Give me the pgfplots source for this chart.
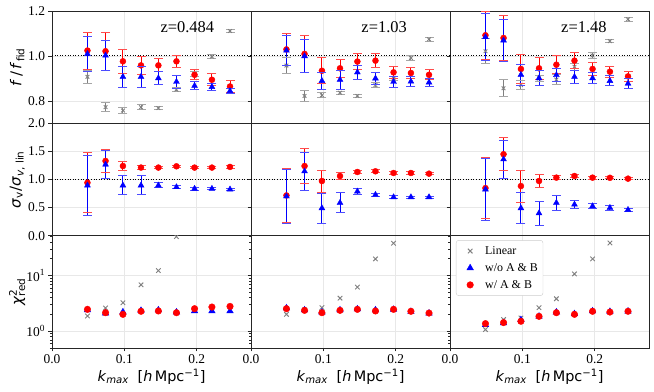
\documentclass[border=0pt]{standalone}
\usepackage{fontspec}
\setmainfont{Liberation Serif}
\newfontfamily\dv{DejaVu Sans}
\usepackage{pgfplots}
\pgfplotsset{compat=1.18}
\usepackage{pgfplotstable}
\usepgfplotslibrary{groupplots}
\usetikzlibrary{calc}

% f / f_fid : k, gray(linear), red(w/ A&B), blue(w/o A&B)
\pgfplotstableread{
k gy ge ry re by be
0.049 0.907 0.030 1.024 0.082 1.009 0.076
0.074 0.772 0.020 1.021 0.084 1.002 0.067
0.098 0.757 0.012 0.976 0.052 0.907 0.047
0.123 0.772 0.010 0.958 0.040 0.907 0.047
0.147 0.768 0.008 0.958 0.029 0.901 0.029
0.172 0.850 0.010 0.976 0.027 0.885 0.028
0.197 0.920 0.010 0.916 0.022 0.867 0.018
0.221 0.997 0.010 0.894 0.027 0.862 0.015
0.246 1.111 0.008 0.864 0.025 0.844 0.012
}\fA
\pgfplotstableread{
k gy ge ry re by be
0.049 0.957 0.037 1.029 0.070 1.024 0.068
0.074 0.822 0.025 1.009 0.084 0.999 0.073
0.098 0.825 0.012 0.934 0.058 0.889 0.037
0.123 0.836 0.008 0.945 0.041 0.894 0.041
0.147 0.822 0.008 0.975 0.034 0.927 0.032
0.172 0.870 0.010 0.979 0.030 0.900 0.028
0.197 0.900 0.010 0.927 0.025 0.885 0.024
0.221 0.991 0.009 0.924 0.025 0.886 0.022
0.246 1.074 0.008 0.916 0.022 0.882 0.019
}\fB
\pgfplotstableread{
k gy ge ry re by be
0.049 1.021 0.056 1.092 0.107 1.084 0.105
0.074 0.856 0.038 1.080 0.100 1.069 0.092
0.098 0.871 0.022 0.942 0.065 0.916 0.046
0.123 0.900 0.013 0.945 0.049 0.901 0.033
0.147 0.895 0.022 0.961 0.041 0.915 0.030
0.172 0.952 0.015 0.979 0.036 0.907 0.029
0.197 1.002 0.013 0.942 0.030 0.901 0.025
0.221 1.066 0.008 0.930 0.025 0.889 0.022
0.246 1.163 0.009 0.909 0.023 0.877 0.022
}\fC

% sigma_v / sigma_v,lin
\pgfplotstableread{
k ry re by be
0.049 0.943 0.530 0.895 0.535
0.074 1.330 0.210 1.266 0.245
0.098 1.240 0.075 0.895 0.170
0.123 1.212 0.030 0.895 0.170
0.147 1.212 0.020 0.895 0.045
0.172 1.235 0.020 0.865 0.030
0.197 1.212 0.020 0.836 0.025
0.221 1.212 0.020 0.836 0.020
0.246 1.224 0.020 0.824 0.020
}\sA
\pgfplotstableread{
k ry re by be
0.049 0.716 0.475 0.700 0.475
0.074 1.240 0.310 1.146 0.340
0.098 0.973 0.195 0.490 0.270
0.123 1.062 0.070 0.585 0.180
0.147 1.134 0.030 0.788 0.050
0.172 1.146 0.025 0.728 0.030
0.197 1.116 0.020 0.686 0.025
0.221 1.116 0.020 0.686 0.020
0.246 1.104 0.020 0.686 0.020
}\sB
\pgfplotstableread{
k ry re by be
0.049 0.847 0.545 0.824 0.550
0.074 1.450 0.290 1.360 0.340
0.098 0.883 0.285 0.490 0.280
0.123 0.973 0.110 0.400 0.210
0.147 1.033 0.040 0.585 0.128
0.172 1.062 0.030 0.555 0.070
0.197 1.033 0.025 0.525 0.045
0.221 1.030 0.020 0.496 0.040
0.246 1.015 0.020 0.460 0.030
}\sC

% reduced chi^2
\pgfplotstableread{
k g b r
0.049 1.88 2.40 2.47
0.074 2.61 2.10 2.15
0.098 3.25 2.21 2.01
0.123 6.8 2.35 2.28
0.147 12.3 2.40 2.31
0.172 50 2.20 2.15
0.197 nan 2.30 2.54
0.221 nan 2.30 2.72
0.246 nan 2.30 2.79
}\cA
\pgfplotstableread{
k g b r
0.049 2.01 2.60 2.54
0.074 2.40 2.40 2.37
0.098 2.65 2.20 2.15
0.123 3.93 2.40 2.37
0.147 6.2 2.50 2.47
0.172 19.9 2.40 2.31
0.197 38 2.45 2.47
0.221 nan 2.25 2.28
0.246 nan 2.10 2.12
}\cB
\pgfplotstableread{
k g b r
0.049 1.07 1.30 1.37
0.074 1.62 1.40 1.43
0.098 1.73 1.60 1.51
0.123 2.65 1.85 1.85
0.147 3.83 2.20 2.15
0.172 10.7 2.05 2.01
0.197 19.9 2.30 2.28
0.221 38.4 2.25 2.21
0.246 nan 2.28 2.28
}\cC

\pgfplotsset{
  gr/.style={only marks, color=gray, mark=x, mark size=2.6bp, mark options={line width=0.9bp}},
  bl/.style={only marks, color=blue, mark=triangle*, mark size=3.4bp},
  rd/.style={only marks, color=red, mark=*, mark size=3bp},
  cap/.style={only marks, mark=-, mark size=4.5bp, mark options={line width=0.9bp}, color=#1!70!white, forget plot},
  refline/.style={black, line width=1bp, dash pattern=on 1bp off 1.6bp, forget plot},
}
\tikzset{ztext/.style={font=\fontsize{16.5}{16.5}\selectfont}}

% #1 table, #2 value column, #3 error column, #4 colour, #5 marker style
\newcommand\eplot[5]{%
  \addplot[cap=#4] table[x=k, y expr=\thisrow{#2}+\thisrow{#3}] {#1};
  \addplot[cap=#4] table[x=k, y expr=\thisrow{#2}-\thisrow{#3}] {#1};
  \addplot[draw=#4, line width=1bp, forget plot, quiver={u=0, v={2*\thisrow{#3}},
    every arrow/.append style={draw=#4, line width=1bp}}]
    table[x=k, y expr=\thisrow{#2}-\thisrow{#3}] {#1};
  \addplot[#5] table[x=k, y=#2] {#1};
}

\begin{document}
\begin{tikzpicture}
\begin{groupplot}[
  group style={group size=3 by 3, group name=G, horizontal sep=0pt, vertical sep=0pt,
    x descriptions at=edge bottom, y descriptions at=edge left},
  scale only axis, width=199bp, height=112.33bp,
  xmin=0, xmax=0.275, xtick={0,0.1,0.2}, xticklabels={0.0,0.1,0.2},
  tick pos=left, tick align=outside,
  major tick length=3.5bp, minor tick length=2bp,
  grid=major, grid style={black!9, line width=0.6bp},
  axis line style={black!85, line width=0.8bp},
  tick style={black!85, line width=0.6bp},
  ticklabel style={font=\fontsize{13.5}{13.5}\selectfont},
  /pgf/number format/assume math mode=true,
  ylabel style={at={(axis description cs:-0.175,0.5)}, anchor=center, font=\dv\fontsize{15}{15}\selectfont},
  xlabel style={at={(axis description cs:0.5,-0.255)}, anchor=center, font=\dv\fontsize{14.5}{14.5}\selectfont},
  xlabel={\textit{k}\textsubscript{\textit{max}}\hspace{0.6em}[\textit{h}\,Mpc\textsuperscript{−1}]},
]
% ---------- row 1 ----------
\nextgroupplot[ymin=0.7, ymax=1.2, ytick={0.8,1.0,1.2}, yticklabels={0.8,1.0,1.2},
  ylabel={\textit{f}\,/\,\textit{f}\textsubscript{fid}}]
\addplot[refline] coordinates {(0,1) (0.275,1)};
\eplot{\fA}{gy}{ge}{gray}{gr}
\eplot{\fA}{ry}{re}{red}{rd}
\eplot{\fA}{by}{be}{blue}{bl}
\node[ztext] at (axis cs:0.187,1.128) {z=0.484};

\nextgroupplot[ymin=0.7, ymax=1.2, ytick={0.8,1.0,1.2}]
\addplot[refline] coordinates {(0,1) (0.275,1)};
\eplot{\fB}{gy}{ge}{gray}{gr}
\eplot{\fB}{ry}{re}{red}{rd}
\eplot{\fB}{by}{be}{blue}{bl}
\node[ztext] at (axis cs:0.184,1.128) {z=1.03};

\nextgroupplot[ymin=0.7, ymax=1.2, ytick={0.8,1.0,1.2}]
\addplot[refline] coordinates {(0,1) (0.275,1)};
\eplot{\fC}{gy}{ge}{gray}{gr}
\eplot{\fC}{ry}{re}{red}{rd}
\eplot{\fC}{by}{be}{blue}{bl}
\node[ztext] at (axis cs:0.185,1.128) {z=1.48};

% ---------- row 2 ----------
\nextgroupplot[ymin=0, ymax=2, ytick={0,0.5,1,1.5,2}, yticklabels={0.0,0.5,1.0,1.5,2.0},
  ylabel={\textit{σ}\textsubscript{v}/\textit{σ}\textsubscript{\textit{v}, lin}}]
\addplot[refline] coordinates {(0,1) (0.275,1)};
\eplot{\sA}{ry}{re}{red}{rd}
\eplot{\sA}{by}{be}{blue}{bl}

\nextgroupplot[ymin=0, ymax=2, ytick={0,0.5,1,1.5,2}]
\addplot[refline] coordinates {(0,1) (0.275,1)};
\eplot{\sB}{ry}{re}{red}{rd}
\eplot{\sB}{by}{be}{blue}{bl}

\nextgroupplot[ymin=0, ymax=2, ytick={0,0.5,1,1.5,2}]
\addplot[refline] coordinates {(0,1) (0.275,1)};
\eplot{\sC}{ry}{re}{red}{rd}
\eplot{\sC}{by}{be}{blue}{bl}

% ---------- row 3 ----------
\nextgroupplot[ymode=log, ymin=0.5, ymax=52, ytick={1,10},
  yticklabels={10\textsuperscript{0},10\textsuperscript{1}},
  minor ytick={0.5,0.6,0.7,0.8,0.9,2,3,4,5,6,7,8,9,20,30,40,50},
  clip marker paths=true,
  ylabel={\textit{χ}\makebox[0pt][l]{\textsuperscript{2}}\textsubscript{red}}]
\addplot[gr, mark size=3.2bp] table[x=k, y=g] {\cA};
\addplot[bl, mark size=3.8bp] table[x=k, y=b] {\cA};
\addplot[rd, mark size=3.3bp] table[x=k, y=r] {\cA};

\nextgroupplot[ymode=log, ymin=0.5, ymax=52, ytick={1,10},
  minor ytick={0.5,0.6,0.7,0.8,0.9,2,3,4,5,6,7,8,9,20,30,40,50},
  clip marker paths=true]
\addplot[gr, mark size=3.2bp] table[x=k, y=g] {\cB};
\addplot[bl, mark size=3.8bp] table[x=k, y=b] {\cB};
\addplot[rd, mark size=3.3bp] table[x=k, y=r] {\cB};

\nextgroupplot[ymode=log, ymin=0.5, ymax=52, ytick={1,10},
  minor ytick={0.5,0.6,0.7,0.8,0.9,2,3,4,5,6,7,8,9,20,30,40,50},
  clip marker paths=true,
  legend style={at={(0.03,0.96)}, anchor=north west, draw=black!20, rounded corners=2.5bp,
    fill=white, font=\fontsize{12}{12}\selectfont, row sep=3.5bp, inner xsep=3bp, inner ysep=4bp},
  legend image code/.code={\path[draw=none, fill=none] (0bp,-2bp) rectangle (24bp,2bp); \draw[#1, sharp corners] plot coordinates {(11bp,0bp)};},
  legend cell align=left]
\addplot[gr, mark size=3.2bp] table[x=k, y=g] {\cC};
\addplot[bl, mark size=3.8bp] table[x=k, y=b] {\cC};
\addplot[rd, mark size=3.3bp] table[x=k, y=r] {\cC};
\legend{Linear, w/o A \& B, w/ A \& B}
\end{groupplot}
\pgfresetboundingbox
\path[use as bounding box] ($(G c1r1.north west)+(-52bp,11bp)$) rectangle ($(G c3r3.south east)+(5bp,-44bp)$);
\end{tikzpicture}
\end{document}
